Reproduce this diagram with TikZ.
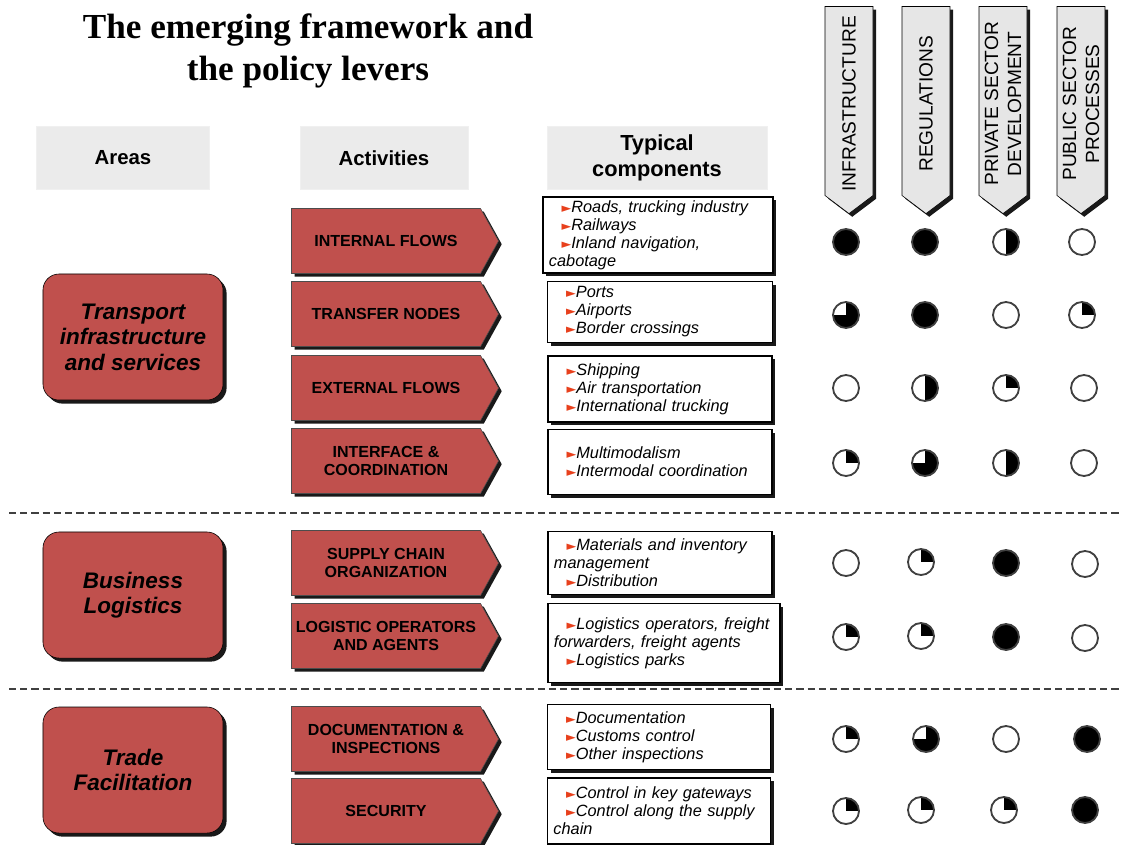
\documentclass[tikz,border=0pt]{standalone}
\usepackage{fontspec}
\usepackage{xcolor}
\usepackage{tikz}
\usetikzlibrary{shapes.symbols,shadows}
\setmainfont{Liberation Sans}
\newfontfamily\titlefont{Liberation Serif}
\newfontfamily\symfont{DejaVu Sans}
\definecolor{areared}{HTML}{C0504D}
\definecolor{bulletred}{HTML}{E8401C}
\definecolor{headgray}{HTML}{EBEBEB}
\definecolor{levergray}{HTML}{E6E6E6}
\newcommand{\bul}{\hspace*{9pt}{\symfont\color{bulletred}\fontsize{9}{9}\selectfont►}}

\begin{document}
\begin{tikzpicture}[x=0.025cm, y=-0.025cm]
      \tikzstyle{head} = [rectangle, draw=black!6, fill=headgray, minimum height=1.575cm, align=center, font=\bfseries\fontsize{14.5}{18}\selectfont]
      \tikzstyle{area} = [rectangle, rounded corners=0.4cm, draw=black, fill=areared, minimum width=4.5cm, minimum height=3.15cm, align=center, font=\bfseries\itshape\fontsize{16}{18.2}\selectfont, drop shadow={shadow xshift=0.09cm, shadow yshift=-0.09cm, opacity=0.9, fill=black}]
      \tikzstyle{activity} = [signal, signal to=east, signal pointer angle=122, draw=black!70, fill=areared, minimum width=5.175cm, minimum height=1.625cm, inner sep=1pt, align=center, font=\bfseries\fontsize{11.4}{13}\selectfont, drop shadow={shadow xshift=0.08cm, shadow yshift=-0.08cm, opacity=0.9, fill=black}]
      \tikzstyle{comp} = [rectangle, draw=black, thick, fill=white, inner xsep=0.15cm, inner ysep=1pt, align=left, font=\itshape\fontsize{11.6}{12.8}\selectfont, drop shadow={shadow xshift=0.08cm, shadow yshift=-0.08cm, opacity=0.9, fill=black}]
      \tikzstyle{lever} = [signal, signal to=west, signal pointer angle=106, rotate=90, draw=black, fill=levergray, minimum width=5.175cm, minimum height=1.2cm, inner sep=1pt, align=center, font=\fontsize{13.6}{16.5}\selectfont, drop shadow={shadow xshift=0.08cm, shadow yshift=-0.08cm, opacity=0.9, fill=black}]
      \tikzstyle{ball} = [circle, draw=black!75, line width=1.3pt, fill=white, minimum size=0.65cm, inner sep=0pt]
      \tikzstyle{hb0} = [ball]
      \tikzstyle{hb25} = [ball, path picture={\fill[black] (path picture bounding box.center) rectangle (path picture bounding box.north east);}]
      \tikzstyle{hb50} = [ball, path picture={\fill[black] (path picture bounding box.south) rectangle (path picture bounding box.north east);}]
      \tikzstyle{hb75} = [ball, path picture={\fill[black] (path picture bounding box.south) rectangle (path picture bounding box.north east); \fill[black] (path picture bounding box.south west) rectangle (path picture bounding box.center);}]
      \tikzstyle{hb100} = [ball, fill=black]
      \tikzstyle{sep} = [draw=black!75, line width=1.5pt, dash pattern=on 5pt off 3pt]
      \useasboundingbox (0,0) rectangle (1122,844);

      % title and column heads
      \node[align=center, font=\titlefont\bfseries\fontsize{25}{30}\selectfont] (title) at (308,51) {The emerging framework and\\the policy levers};
      \node[head, minimum width=4.325cm] (areas) at (123,158) {Areas};
      \node[head, minimum width=4.2cm] (activities) at (384,158) {Activities};
      \node[head, minimum width=5.5cm, font=\bfseries\fontsize{15.5}{18.5}\selectfont] (components) at (657,158) {Typical\\components};
      \node[lever] (infra) at (849,101) {INFRASTRUCTURE\hspace*{4pt}};
      \node[lever] (regul) at (926,101) {REGULATIONS\hspace*{4pt}};
      \node[lever] (private) at (1003,101) {PRIVATE SECTOR\hspace*{4pt}\\DEVELOPMENT\hspace*{4pt}};
      \node[lever] (public) at (1081,101) {PUBLIC SECTOR\hspace*{4pt}\\PROCESSES\hspace*{4pt}};

      % areas
      \node[area] (transport) at (133,337) {Transport\\infrastructure\\and services};
      \node[area] (business) at (133,595) {Business\\Logistics};
      \node[area] (trade) at (133,770) {Trade\\Facilitation};

      % activities
      \node[activity] (internal) at (386,241) {INTERNAL FLOWS};
      \node[activity] (transfer) at (386,314) {TRANSFER NODES};
      \node[activity] (external) at (386,388) {EXTERNAL FLOWS};
      \node[activity] (interface) at (386,461) {INTERFACE \&\\COORDINATION};
      \node[activity] (supply) at (386,563) {SUPPLY CHAIN\\ORGANIZATION};
      \node[activity] (operators) at (386,636) {LOGISTIC OPERATORS\\AND AGENTS};
      \node[activity] (documents) at (386,739) {DOCUMENTATION \&\\INSPECTIONS};
      \node[activity] (security) at (386,811) {SECURITY};

      % typical components
      \node[comp, text width=5.45cm, minimum height=1.9cm] (c1) at (658,235) {\bul Roads, trucking industry\\\bul Railways\\\bul Inland navigation,\\cabotage};
      \node[comp, text width=5.325cm, minimum height=1.525cm] (c2) at (660,312) {\bul Ports\\\bul Airports\\\bul Border crossings};
      \node[comp, text width=5.3cm, minimum height=1.65cm] (c3) at (660,389) {\bul Shipping\\\bul Air transportation\\\bul International trucking};
      \node[comp, text width=5.3cm, minimum height=1.625cm] (c4) at (660,462) {\bul Multimodalism\\\bul Intermodal coordination};
      \node[comp, text width=5.3cm, minimum height=1.575cm] (c5) at (660,563) {\bul Materials and inventory\\management\\\bul Distribution};
      \node[comp, text width=5.5cm, minimum height=1.975cm] (c6) at (664,643) {\bul Logistics operators, freight\\forwarders, freight agents\\\bul Logistics parks};
      \node[comp, text width=5.275cm, minimum height=1.625cm] (c7) at (659,737) {\bul Documentation\\\bul Customs control\\\bul Other inspections};
      \node[comp, text width=5.275cm, minimum height=1.65cm] (c8) at (659,811) {\bul Control in key gateways\\\bul Control along the supply\\chain};

      % policy levers
      \node[hb100] (r1c1) at (846,242) {};
      \node[hb100] (r1c2) at (925,242) {};
      \node[hb50] (r1c3) at (1006,242) {};
      \node[hb0] (r1c4) at (1082,242) {};
      \node[hb75] (r2c1) at (846,315) {};
      \node[hb100] (r2c2) at (925,315) {};
      \node[hb0] (r2c3) at (1006,315) {};
      \node[hb25] (r2c4) at (1082,315) {};
      \node[hb0] (r3c1) at (846,388) {};
      \node[hb50] (r3c2) at (925,388) {};
      \node[hb25] (r3c3) at (1006,388) {};
      \node[hb0] (r3c4) at (1084,388) {};
      \node[hb25] (r4c1) at (846,463) {};
      \node[hb75] (r4c2) at (925,463) {};
      \node[hb50] (r4c3) at (1006,463) {};
      \node[hb0] (r4c4) at (1084,463) {};
      \node[hb0] (r5c1) at (846,563) {};
      \node[hb25] (r5c2) at (921,562) {};
      \node[hb100] (r5c3) at (1006,563) {};
      \node[hb0] (r5c4) at (1085,564) {};
      \node[hb25] (r6c1) at (846,637) {};
      \node[hb25] (r6c2) at (921,636) {};
      \node[hb100] (r6c3) at (1006,637) {};
      \node[hb0] (r6c4) at (1085,638) {};
      \node[hb25] (r7c1) at (846,739) {};
      \node[hb75] (r7c2) at (926,739) {};
      \node[hb0] (r7c3) at (1006,739) {};
      \node[hb100] (r7c4) at (1087,739) {};
      \node[hb25] (r8c1) at (846,811) {};
      \node[hb25] (r8c2) at (921,810) {};
      \node[hb25] (r8c3) at (1004,810) {};
      \node[hb100] (r8c4) at (1085,810) {};

      % separators
      \coordinate (s1l) at (9,513);
      \coordinate (s1r) at (1122,513);
      \coordinate (s2l) at (9,689);
      \coordinate (s2r) at (1122,689);
      \draw[sep] (s1l) -- (s1r);
      \draw[sep] (s2l) -- (s2r);
\end{tikzpicture}
\end{document}
